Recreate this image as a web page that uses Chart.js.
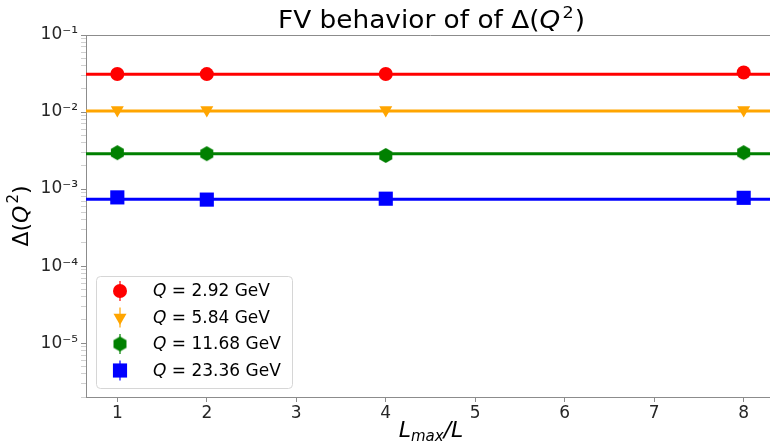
<!DOCTYPE html>
<html><head><meta charset="utf-8">
<script src="https://cdn.jsdelivr.net/npm/chart.js@4.4.0/dist/chart.umd.min.js"></script>
<style>html,body{margin:0;padding:0;overflow:hidden;background:#fff;width:770px;height:446px}
#wrap{position:absolute;left:0;top:0;width:785px;height:446px}</style>
</head><body>
<div id="wrap"><canvas id="c" width="785" height="446"></canvas></div>
<script>
const xVals = [1, 2, 4, 8];
const q292 = [0.0312, 0.0311, 0.0312, 0.0326];
const q584 = [0.0106, 0.0106, 0.0106, 0.0106];
const q1168 = [0.00297, 0.00288, 0.00273, 0.00297];
const q2336 = [0.00078, 0.00073, 0.00075, 0.00077];
const fitValues = [0.0310, 0.0103, 0.00288, 0.00074];
const xRange = [0.65, 8.35];
const seriesNames = ['2.92', '5.84', '11.68', '23.36'];
const seriesColors = ['#ff0000', '#ffa500', '#008000', '#0000ff'];
const yMajorTicks = [1e-5, 1e-4, 1e-3, 1e-2, 1e-1];
const yMajorLabels = ['10\u207B\u2075', '10\u207B\u2074', '10\u207B\u00B3', '10\u207B\u00B2', '10\u207B\u00B9'];
const xTicks = [1, 2, 3, 4, 5, 6, 7, 8];
const yMin = 2e-6, yMax = 0.1;

function hexagon(r, color) {
  const c = document.createElement('canvas');
  const s = Math.ceil(2 * r + 2);
  c.width = s; c.height = s;
  const g = c.getContext('2d');
  g.fillStyle = color;
  g.beginPath();
  for (let i = 0; i < 6; i++) {
    const a = Math.PI / 2 + i * Math.PI / 3;
    const px = s / 2 + r * Math.cos(a), py = s / 2 - r * Math.sin(a);
    i ? g.lineTo(px, py) : g.moveTo(px, py);
  }
  g.closePath(); g.fill();
  return c;
}
const hexImg = hexagon(7.5, '#008000');

const seriesValues = [q292, q584, q1168, q2336];
const pStyles = ['circle', 'triangle', hexImg, 'rect'];
const pRadius = [7, 7.5, 7, 10];
const pRot = [0, 180, 0, 0];

const datasets = [];
seriesValues.forEach((vals, i) => {
  datasets.push({
    type: 'line',
    data: xVals.map((x, j) => ({x: x, y: vals[j]})),
    showLine: false,
    pointStyle: pStyles[i],
    pointRadius: pRadius[i],
    pointRotation: pRot[i],
    backgroundColor: seriesColors[i],
    borderColor: seriesColors[i],
    borderWidth: 0,
    order: 0
  });
  datasets.push({
    type: 'line',
    data: xRange.map(x => ({x: x, y: fitValues[i]})),
    borderColor: seriesColors[i],
    borderWidth: 3,
    pointRadius: 0,
    order: 1
  });
});

const F = 'DejaVu Sans';
const deco = {
  id: 'deco',
  afterDraw(chart) {
    const g = chart.ctx, a = chart.chartArea;
    g.save();
    g.strokeStyle = '#8c8c8c'; g.lineWidth = 1;
    g.beginPath(); g.moveTo(a.left, a.top + 0.5); g.lineTo(a.right, a.top + 0.5); g.stroke();
    g.fillStyle = '#000';
    g.textBaseline = 'alphabetic';
    g.textAlign = 'left';
    // title
    const t1 = 'FV behavior of of \u0394(';
    g.font = '24px ' + F;
    const w1 = g.measureText(t1).width;
    g.font = 'italic 24px ' + F;
    const wq = g.measureText('Q').width;
    g.font = '16px ' + F;
    const w2 = g.measureText('2').width;
    g.font = '24px ' + F;
    const w3 = g.measureText(')').width;
    const W = w1 + wq + 2 + w2 + 1 + w3;
    g.save();
    g.translate(278, 28);
    g.scale(307 / W, 1);
    let tx = 0, ty = 0;
    g.font = '24px ' + F; g.fillText(t1, tx, ty); tx += w1;
    g.font = 'italic 24px ' + F; g.fillText('Q', tx, ty); tx += wq + 2;
    g.font = '16px ' + F; g.fillText('2', tx, ty - 10); tx += w2 + 1;
    g.font = '24px ' + F; g.fillText(')', tx, ty);
    g.restore();
    // x title
    g.font = 'italic 22px ' + F;
    const wl = g.measureText('L').width;
    g.font = 'italic 15px ' + F;
    const wm = g.measureText('max').width;
    g.font = 'italic 22px ' + F;
    const wr = g.measureText('/L').width;
    tx = 431 - (wl + wm + wr) / 2; ty = 437;
    g.font = 'italic 22px ' + F; g.fillText('L', tx, ty); tx += wl;
    g.font = 'italic 15px ' + F; g.fillText('max', tx, ty + 4); tx += wm;
    g.font = 'italic 22px ' + F; g.fillText('/L', tx, ty);
    // y title
    g.save();
    g.translate(28, 216); g.rotate(-Math.PI / 2);
    g.font = '22px ' + F;
    const y1 = g.measureText('\u0394(').width;
    g.font = 'italic 22px ' + F;
    const yq = g.measureText('Q').width;
    g.font = '15px ' + F;
    const y2 = g.measureText('2').width;
    g.font = '22px ' + F;
    const y3 = g.measureText(')').width;
    tx = -(y1 + yq + y2 + y3 + 2) / 2;
    g.font = '22px ' + F; g.fillText('\u0394(', tx, 0); tx += y1;
    g.font = 'italic 22px ' + F; g.fillText('Q', tx, 0); tx += yq + 2;
    g.font = '15px ' + F; g.fillText('2', tx, -10); tx += y2;
    g.font = '22px ' + F; g.fillText(')', tx, 0);
    g.restore();
    // legend
    const lx = 96.5, ly = 276.5, lw = 196, lh = 112, r = 4;
    g.fillStyle = 'rgba(255,255,255,0.8)';
    g.strokeStyle = '#d6d6d6'; g.lineWidth = 1;
    g.beginPath();
    g.moveTo(lx + r, ly); g.lineTo(lx + lw - r, ly); g.quadraticCurveTo(lx + lw, ly, lx + lw, ly + r);
    g.lineTo(lx + lw, ly + lh - r); g.quadraticCurveTo(lx + lw, ly + lh, lx + lw - r, ly + lh);
    g.lineTo(lx + r, ly + lh); g.quadraticCurveTo(lx, ly + lh, lx, ly + lh - r);
    g.lineTo(lx, ly + r); g.quadraticCurveTo(lx, ly, lx + r, ly);
    g.closePath(); g.fill(); g.stroke();
    const rows = [291, 317.5, 344, 370.5];
    seriesNames.forEach((nm, i) => {
      const cy = rows[i];
      g.strokeStyle = seriesColors[i]; g.lineWidth = 1.2;
      g.beginPath(); g.moveTo(120, cy - 10); g.lineTo(120, cy + 10); g.stroke();
      g.fillStyle = seriesColors[i];
      g.strokeStyle = seriesColors[i];
      Chart.helpers.drawPoint(g, {pointStyle: pStyles[i], radius: pRadius[i], rotation: pRot[i], borderWidth: 0}, 120, cy);
      g.fillStyle = '#000';
      g.textBaseline = 'middle';
      g.font = 'italic 17px ' + F;
      let x0 = 153;
      g.fillText('Q', x0, cy + 1); x0 += g.measureText('Q').width;
      g.font = '17px ' + F;
      g.fillText(' = ' + nm + ' GeV', x0, cy + 1);
    });
    g.restore();
  }
};

new Chart(document.getElementById('c'), {
  type: 'line',
  data: {datasets: datasets},
  options: {
    responsive: false,
    animation: false,
    events: [],
    layout: {padding: {left: 0, right: 1, top: 35, bottom: 0}},
    plugins: {legend: {display: false}, title: {display: false}, tooltip: {enabled: false}},
    scales: {
      x: {
        type: 'linear', min: xRange[0], max: xRange[1],
        afterBuildTicks: s => { s.ticks = xTicks.map(v => ({value: v})); },
        afterFit: s => { s.height = 49; },
        grid: {drawOnChartArea: false, tickLength: 5, color: '#8c8c8c'},
        border: {color: '#8c8c8c'},
        ticks: {font: {family: F, size: 17}, color: '#262626', padding: 1, maxRotation: 0,
                callback: v => String(v)}
      },
      y: {
        type: 'logarithmic', min: yMin, max: yMax,
        afterBuildTicks: s => {
          const t = [];
          for (let e = -6; e <= -1; e++) {
            for (let m = 1; m <= 9; m++) {
              const v = m * Math.pow(10, e);
              if (v >= yMin * 0.999 && v <= yMax * 1.001) t.push({value: v});
            }
          }
          s.ticks = t;
        },
        afterFit: s => { s.width = 86; },
        grid: {drawOnChartArea: false, tickLength: 5,
               color: c => (c.tick && yMajorTicks.some(m => Math.abs(m - c.tick.value) / m < 1e-6)) ? '#8c8c8c' : '#d0d0d0'},
        border: {color: '#8c8c8c'},
        ticks: {font: {family: F, size: 17}, color: '#262626', padding: 3, autoSkip: false,
                callback: v => {
                  const k = yMajorTicks.findIndex(m => Math.abs(m - v) / m < 1e-6);
                  return k >= 0 ? yMajorLabels[k] : '';
                }}
      }
    }
  },
  plugins: [deco]
});
</script>
</body></html>
